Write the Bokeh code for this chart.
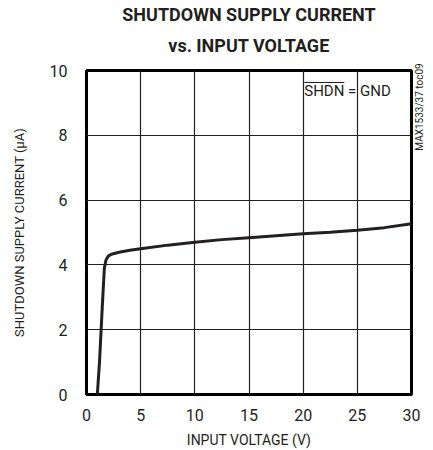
from bokeh.plotting import figure
from bokeh.models import Label, Range1d, FixedTicker, Title, LinearAxis
from bokeh.embed import file_html
from bokeh.resources import INLINE
from math import pi

# data
voltage = [1.0, 1.2, 1.35, 1.5, 1.65, 1.8, 2.0, 2.3, 3, 4, 5, 7.5, 10, 12.5, 15, 17.5, 20, 22.5, 25, 27.5, 30]
current = [0, 1.0, 2.0, 3.0, 3.9, 4.15, 4.27, 4.33, 4.39, 4.45, 4.50, 4.61, 4.70, 4.78, 4.84, 4.90, 4.96, 5.01, 5.07, 5.15, 5.27]
x_ticks = [0, 5, 10, 15, 20, 25, 30]
y_ticks = [0, 2, 4, 6, 8, 10]

FONT = "Roboto"
INK = "#231f20"

p = figure(width=433, height=450, output_backend="svg", toolbar_location=None,
           x_range=Range1d(0, 30), y_range=Range1d(0, 10),
           min_border_left=86, min_border_right=22, min_border_top=70, min_border_bottom=54)
p.outline_line_color = "black"
p.outline_line_width = 3
p.background_fill_color = "white"
p.border_fill_color = "white"

p.xaxis.ticker = FixedTicker(ticks=x_ticks)
p.yaxis.ticker = FixedTicker(ticks=y_ticks)
for ax in (p.xaxis[0], p.yaxis[0]):
    ax.axis_line_color = None
    ax.major_tick_line_color = None
    ax.minor_tick_line_color = None
    ax.major_label_text_font = FONT
    ax.major_label_text_font_size = "16px"
    ax.major_label_text_color = INK
    ax.axis_label_text_font = FONT
    ax.axis_label_text_font_style = "normal"
    ax.axis_label_text_color = INK
p.xaxis.axis_label_text_font_size = "14px"
p.yaxis.axis_label_text_font_size = "13px"
p.xaxis.major_label_standoff = 8
p.yaxis.major_label_standoff = 13
p.xaxis.axis_label = "INPUT VOLTAGE (V)"
p.yaxis.axis_label = "SHUTDOWN SUPPLY CURRENT (\u03bcA)"
p.xaxis.axis_label_standoff = 8
p.yaxis.axis_label_standoff = 20

p.xgrid.grid_line_color = INK
p.ygrid.grid_line_color = INK
p.xgrid.grid_line_width = 1.2
p.ygrid.grid_line_width = 1.2
p.xgrid.ticker = FixedTicker(ticks=x_ticks)
p.ygrid.ticker = FixedTicker(ticks=y_ticks)

p.line(voltage, current, line_color=INK, line_width=3)

# title (first added sits closest to the plot)
t2 = Title(text="vs. INPUT VOLTAGE", align="center", text_font=FONT,
           text_font_size="18px", text_font_style="bold", text_color=INK, standoff=30)
t1 = Title(text="SHUTDOWN SUPPLY CURRENT", align="center", text_font=FONT,
           text_font_size="18px", text_font_style="bold", text_color=INK)
try:
    t1.standoff = -14
except ValueError:
    t1.standoff = 0
p.add_layout(t2, "above")
p.add_layout(t1, "above")

# annotation
p.add_layout(Label(x=20.1, y=9.36, text="SHDN = GND", text_align="left", text_baseline="middle",
                   text_font=FONT, text_font_size="15px", text_color=INK))
p.segment(x0=[20.1], y0=[9.63], x1=[23.8], y1=[9.63], line_color=INK, line_width=1)

# figure id along the right edge (leading no-break spaces push it to the top)
rax = LinearAxis(ticker=FixedTicker(ticks=[]), axis_label="\u00a0" * 33 + "MAX1533/37 toc09",
                 axis_line_color=None, major_tick_line_color=None, minor_tick_line_color=None,
                 major_label_text_font_size="0px", axis_label_text_font=FONT,
                 axis_label_text_font_size="10px", axis_label_text_font_style="normal",
                 axis_label_text_color=INK, axis_label_standoff=8,
                 axis_label_orientation=pi / 2, axis_label_align="center")
p.add_layout(rax, "right")

open("out.html", "w").write(file_html(p, INLINE))
